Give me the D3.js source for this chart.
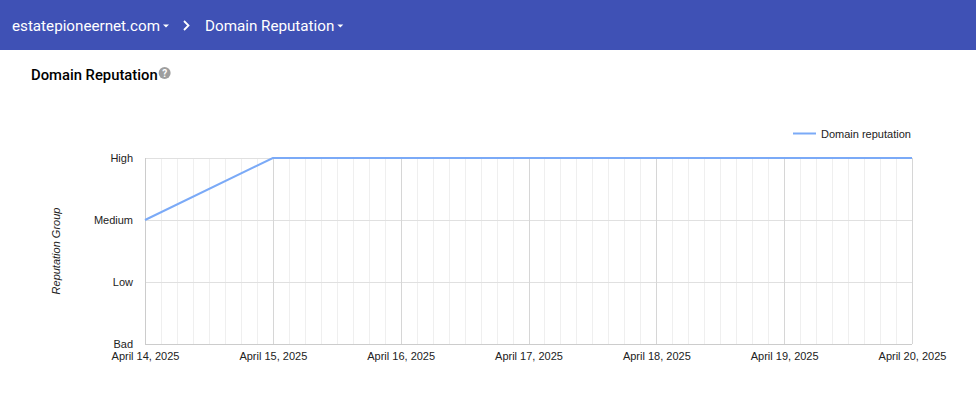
<!DOCTYPE html>
<html><head><meta charset="utf-8">
<script src="https://cdn.jsdelivr.net/npm/d3@7"></script>
<style>
body{margin:0;background:#fff;}
svg{display:block;}
</style></head>
<body>
<svg id="c" width="976" height="395"></svg>
<script>
const dates = ["2025-04-14","2025-04-15","2025-04-16","2025-04-17","2025-04-18","2025-04-19","2025-04-20"];
const reputation = [2, 3, 3, 3, 3, 3, 3];
const levelLabels = ["Bad","Low","Medium","High"];
const xTickLabels = ["April 14, 2025","April 15, 2025","April 16, 2025","April 17, 2025","April 18, 2025","April 19, 2025","April 20, 2025"];
const seriesName = "Domain reputation";
const siteName = "estatepioneernet.com";
const pageName = "Domain Reputation";

const svg = d3.select("#c");
const parse = d3.utcParse("%Y-%m-%d");
const data = dates.map((d,i)=>({date:parse(d), v:reputation[i]}));

// header
svg.append("rect").attr("x",0).attr("y",0).attr("width",976).attr("height",50).attr("fill","#3f51b5");
function caret(xc, yc){
  svg.append("path").attr("d",`M${xc-3},${yc-1.5}L${xc+3},${yc-1.5}L${xc},${yc+1.5}Z`).attr("fill","#fff");
}
const t1 = svg.append("text").attr("x",12).attr("y",31).attr("fill","#fff")
  .attr("font-family","Roboto").attr("font-size",15.2).text(siteName);
const w1 = t1.node().getComputedTextLength();
caret(12+w1+6, 26);
svg.append("path").attr("d","M184,21L188.5,25.5L184,30").attr("fill","none").attr("stroke","#fff").attr("stroke-width",1.8);
const t2 = svg.append("text").attr("x",205).attr("y",31).attr("fill","#fff")
  .attr("font-family","Roboto").attr("font-size",15.2).text(pageName);
const w2 = t2.node().getComputedTextLength();
caret(205+w2+6, 26);

// title
const tt = svg.append("text").attr("x",31).attr("y",80).attr("font-family","Roboto").attr("font-weight",500)
  .attr("font-size",14.8).attr("fill","#000").text("Domain Reputation");
const wt = tt.node().getComputedTextLength();
const hx = 31 + wt + 7;
svg.append("circle").attr("cx",hx).attr("cy",73).attr("r",6).attr("fill","#9e9e9e");
svg.append("text").attr("x",hx).attr("y",77).attr("text-anchor","middle").attr("font-family","Roboto")
  .attr("font-weight",700).attr("font-size",10).attr("fill","#fff").text("?");

const x = d3.scaleUtc().domain([data[0].date, data[data.length-1].date]).range([145,912]);
const y = d3.scaleLinear().domain([0,3]).range([344,158]);

const g = svg.append("g");
// minor grid (3-hour)
const minor = d3.utcHour.every(3).range(data[0].date, data[data.length-1].date);
g.selectAll(".mg").data(minor).join("line")
  .attr("x1",d=>Math.round(x(d))+0.5).attr("x2",d=>Math.round(x(d))+0.5)
  .attr("y1",158).attr("y2",344).attr("stroke","#efefef").attr("stroke-width",1);
// horizontal grid
g.selectAll(".hg").data([1,2,3]).join("line")
  .attr("x1",145).attr("x2",912).attr("y1",d=>Math.round(y(d))+0.5).attr("y2",d=>Math.round(y(d))+0.5)
  .attr("stroke","#e0e0e0");
// major grid
g.selectAll(".mj").data(data.slice(1)).join("line")
  .attr("x1",d=>Math.round(x(d.date))+0.5).attr("x2",d=>Math.round(x(d.date))+0.5)
  .attr("y1",158).attr("y2",344).attr("stroke","#d6d6d6");
// baseline & left axis
g.append("line").attr("x1",145).attr("x2",912).attr("y1",344.5).attr("y2",344.5).attr("stroke","#cccccc");
g.append("line").attr("x1",145.5).attr("x2",145.5).attr("y1",158).attr("y2",344).attr("stroke","#cccccc");

// y labels
const yAxis = d3.axisLeft(y).tickValues([0,1,2,3]).tickFormat(d=>levelLabels[d]).tickSize(0).tickPadding(12);
const ya = svg.append("g").attr("transform","translate(145,0)").call(yAxis);
ya.select(".domain").remove();
ya.selectAll("text").attr("font-family","Liberation Sans, Arial").attr("font-size",11).attr("fill","#222")
  .attr("dy","0.35em");

// x labels
const xAxis = d3.axisBottom(x).tickValues(data.map(d=>d.date)).tickFormat((d,i)=>xTickLabels[i]).tickSize(0).tickPadding(8);
const xa = svg.append("g").attr("transform","translate(0,344)").call(xAxis);
xa.select(".domain").remove();
xa.selectAll("text").attr("font-family","Liberation Sans, Arial").attr("font-size",11).attr("fill","#222");

// y title
svg.append("text").attr("transform","translate(60,251) rotate(-90)").attr("text-anchor","middle")
  .attr("font-family","Liberation Sans, Arial").attr("font-style","italic").attr("font-size",11).attr("fill","#222")
  .text("Reputation Group");

// line
const line = d3.line().x(d=>x(d.date)).y(d=>y(d.v));
svg.append("path").datum(data).attr("d",line).attr("fill","none").attr("stroke","#7baaf7").attr("stroke-width",2);

// legend
svg.append("line").attr("x1",793).attr("x2",816).attr("y1",133.5).attr("y2",133.5).attr("stroke","#7baaf7").attr("stroke-width",2);
svg.append("text").attr("x",821).attr("y",137.5).attr("font-family","Liberation Sans, Arial").attr("font-size",11)
  .attr("fill","#222").text(seriesName);
</script>
</body></html>
